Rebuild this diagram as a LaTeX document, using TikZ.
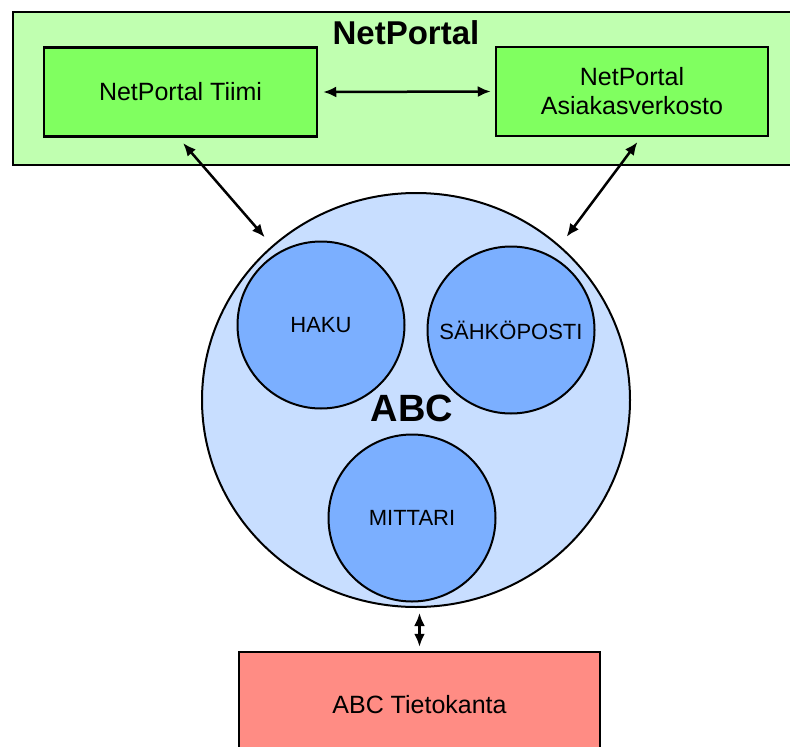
\documentclass[tikz,border=0pt]{standalone}
\usepackage{fontspec}
\setmainfont{Liberation Sans}
\usetikzlibrary{shapes.geometric,arrows.meta}
\definecolor{vertclair}{RGB}{192,255,176}
\definecolor{vert}{RGB}{128,255,96}
\definecolor{bleuclair}{RGB}{200,222,255}
\definecolor{bleu}{RGB}{123,175,255}
\definecolor{rouge}{RGB}{255,140,132}
\begin{document}
\begin{tikzpicture}[x=1pt,y=-1pt,
    boite/.style={draw,line width=2.5pt,fill=vert,align=center,font=\fontsize{25}{29}\selectfont},
    module/.style={circle,draw,line width=2pt,fill=bleu,minimum size=167pt,inner sep=0pt,font=\fontsize{22}{26}\selectfont},
    biarrow/.style={line width=2.5pt,{Latex[length=13pt,width=11pt]}-{Latex[length=13pt,width=11pt]}}]
    \useasboundingbox (0,0) rectangle (790,747);
    \clip (0,0) rectangle (790,747);
    \node (netportal) [draw,line width=2.5pt,fill=vertclair,minimum width=787pt,minimum height=153pt] at (406.5,88.5) {};
    \node (titre) at (406,33) {\fontsize{33}{38}\selectfont\bfseries NetPortal};
    \node (tiimi) [boite,minimum width=273pt,minimum height=89pt] at (180.5,92) {NetPortal Tiimi};
    \node (asia) [boite,minimum width=272pt,minimum height=89pt] at (632,91.5) {NetPortal\\Asiakasverkosto};
    \node (abc) [ellipse,draw,line width=2pt,fill=bleuclair,minimum width=428pt,minimum height=414pt,inner sep=0pt] at (416,400) {};
    \node (haku) [module] at (321,325) {HAKU};
    \node (sahko) [module] at (511,330) {SÄHKÖPOSTI};
    \node (mittari) [module] at (412,518) {MITTARI};
    \node (abctitre) at (412,408) {\fontsize{38}{44}\selectfont\bfseries ABC};
    \node (kanta) [boite,fill=rouge,minimum width=361pt,minimum height=106pt] at (419.5,705) {ABC Tietokanta};
    % fleches
    \draw [biarrow,shorten <=5pt,shorten >=4pt] (tiimi.east) -- (asia.west);
    \draw [biarrow,shorten <=7pt,shorten >=11pt] ([xshift=-2pt]tiimi.south) -- (abc.133);
    \draw [biarrow,shorten <=6pt,shorten >=11pt] ([xshift=9pt]asia.south) -- (abc.47);
    \draw [biarrow,shorten <=5pt,shorten >=4pt] (abc.south -| kanta.north) -- (kanta.north);
\end{tikzpicture}
\end{document}
